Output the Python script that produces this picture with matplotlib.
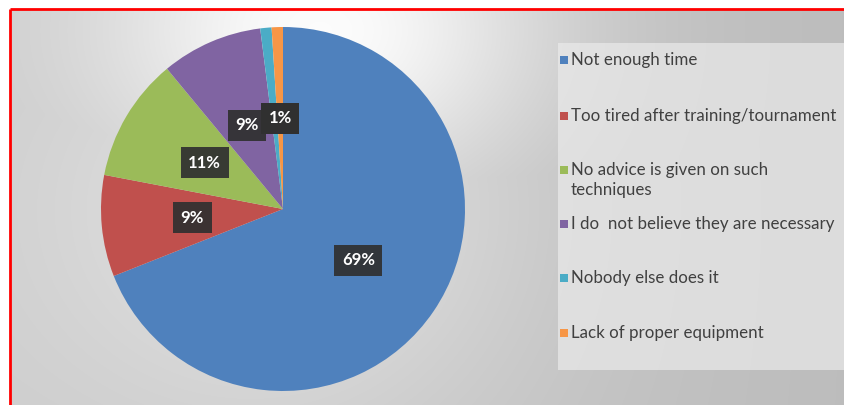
import numpy as np
import matplotlib
matplotlib.use("Agg")
import matplotlib.pyplot as plt
from matplotlib.patches import Rectangle

labels = ["Not enough time",
          "Too tired after training/tournament",
          "No advice is given on such\ntechniques",
          "I do  not believe they are necessary",
          "Nobody else does it",
          "Lack of proper equipment"]
values = [69, 9, 11, 9, 1, 1]
colors = ["#4F81BD", "#C0504D", "#9BBB59", "#8064A2", "#4BACC6", "#F79646"]

W, H = 845, 405
plt.rcParams['font.family'] = ['Lato', 'DejaVu Sans']

fig = plt.figure(figsize=(W / 100, H / 100), dpi=100)
fig.patch.set_facecolor("white")

# background: grey with a soft light glow behind the pie top
bg = fig.add_axes([0, 0, 1, 1])
yy, xx = np.mgrid[0:H, 0:W]
g = 0.80 - 0.06 * (xx / W)
glow = np.exp(-(((xx - 320) / 220.0) ** 2 + ((yy - 30) / 160.0) ** 2))
glow2 = np.exp(-(((xx - 285) / 250.0) ** 2 + ((yy - 210) / 230.0) ** 2))
img = np.clip(g + (1 - g) * np.maximum(glow * 0.95, glow2 * 0.45), 0, 1)
img[(yy < 9) | (xx < 11)] = 1.0
bg.imshow(np.dstack([img, img, img]), extent=[0, W, H, 0], aspect="auto",
          interpolation="bilinear")
bg.set_xlim(0, W)
bg.set_ylim(H, 0)
bg.axis("off")

# legend panel
bg.add_patch(Rectangle((558, 43), 300, 327, facecolor="#eaeaea", alpha=0.7,
                       edgecolor="none"))

# red frame
bg.plot([10, W], [9, 9], color="#ff0000", lw=2.0, solid_capstyle="butt")
bg.plot([10, 10], [9, H], color="#ff0000", lw=2.0, solid_capstyle="butt")

# legend entries
row_y = [60, 116, 180, 224, 278, 333]
for lab, c, y in zip(labels, colors, row_y):
    first_line_y = y - 10 if "\n" in lab else y
    bg.add_patch(Rectangle((560, first_line_y - 4), 8, 8, facecolor=c,
                           edgecolor="none"))
    bg.text(571, y, lab, fontsize=12.2, color="#404040", va="center",
            ha="left", linespacing=1.3)

# pie
cx, cy, r = 283, 209, 182
ax = fig.add_axes([(cx - r) / W, (H - cy - r) / H, 2 * r / W, 2 * r / H])
wedges, texts, autotexts = ax.pie(
    values, colors=colors, startangle=90, counterclock=False,
    autopct="%1.0f%%", pctdistance=0.5, radius=1.0,
    wedgeprops=dict(linewidth=0),
    textprops=dict(color="white", fontsize=12, fontweight="bold"))
for t in autotexts:
    t.set_bbox(dict(boxstyle="square,pad=0.45", facecolor="#303030",
                    edgecolor="none", alpha=0.92))
# the two 1% labels land on the same spot; stack the cyan one right behind
autotexts[4].set_zorder(3)
autotexts[5].set_zorder(5)
autotexts[3].set_zorder(4)
autotexts[4].set_position(autotexts[5].get_position())
ax.set_aspect("equal")
ax.set_xlim(-1, 1)
ax.set_ylim(-1, 1)
ax.axis("off")

fig.savefig("out.png", dpi=100)
